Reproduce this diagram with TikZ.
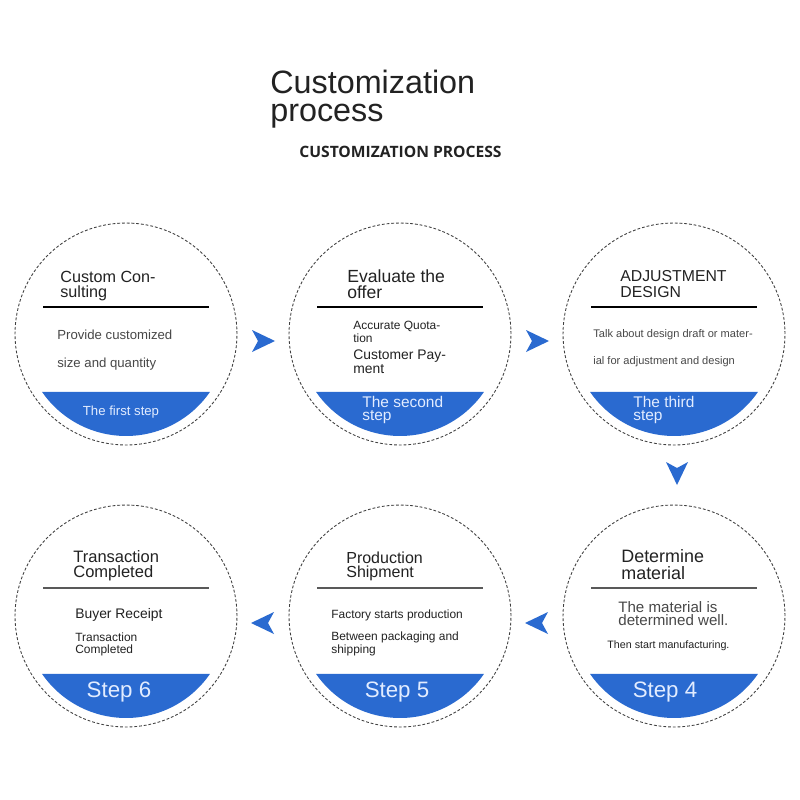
\documentclass[tikz,border=0pt]{standalone}
\usepackage{fontspec}
\setmainfont{Liberation Sans}
\newfontfamily\headbold{Open Sans}
\usepackage{tikz}
\usetikzlibrary{calc}
\definecolor{stepblue}{RGB}{42,106,208}
\definecolor{steplight}{RGB}{226,236,255}
\definecolor{inkdark}{RGB}{34,34,34}
\definecolor{inkbody}{RGB}{72,72,72}
\newcommand{\fs}[2]{\fontsize{#1}{#2}\selectfont}

\begin{document}
\begin{tikzpicture}[x=0.02cm,y=-0.02cm,
  stepcircle/.style={circle,draw=black!75,line width=0.5pt,dash pattern=on 1.6pt off 1.1pt,minimum size=4.44cm,inner sep=0pt},
  headtxt/.style={anchor=base west,align=left,inner sep=0pt,text=inkdark},
  bodytxt/.style={anchor=base west,align=left,inner sep=0pt,text=inkbody},
  bluetxt/.style={anchor=base west,align=left,inner sep=0pt,text=steplight},
  sepline/.style={line width=0.8pt}]
  \useasboundingbox[fill=white] (0,0) rectangle (800,800);
  % title (multi-line nodes sit on their last baseline)
  \node[headtxt,font=\fs{18.4}{16.4}] (title) at (270,122) {Customization\\process};
  \node[anchor=base west,inner sep=0pt,text=inkdark,font=\headbold\bfseries\fs{8.9}{10}] (subtitle) at (299,158) {CUSTOMIZATION PROCESS};
  % circles
  \node[stepcircle] (c1) at (126,334) {};
  \node[stepcircle] (c2) at (400,334) {};
  \node[stepcircle] (c3) at (674,334) {};
  \node[stepcircle] (c4) at (674,616) {};
  \node[stepcircle] (c5) at (400,616) {};
  \node[stepcircle] (c6) at (126,616) {};
  % blue caps and rules
  \foreach \c in {c1,c2,c3,c4,c5,c6} {
    \fill[stepblue] ($(\c)+(34.6:102)$) arc (34.6:145.4:102) -- cycle;
  }
  \foreach \c in {c1,c2,c3} \draw[sepline,black] ($(\c)+(-83,-27)$) -- ($(\c)+(83,-27)$);
  \foreach \c in {c4,c5,c6} \draw[sepline,black!65] ($(\c)+(-83,-28)$) -- ($(\c)+(83,-28)$);
  % arrow heads between the steps
  \foreach \a/\b/\ang/\dx/\dy in {c1/c2/0/0/7, c2/c3/0/0/7, c3/c4/-90/3/-2, c4/c5/180/0/7, c5/c6/180/0/7}
    \fill[stepblue,shift={($(\a)!0.5!(\b)+(\dx,\dy)$)},rotate=\ang] (12,0) -- (-11,-11) -- (-5,0) -- (-11,11) -- cycle;
  % step 1
  \node[headtxt,font=\fs{9.2}{8.2}] (h1) at (60,297) {Custom Con-\\sulting};
  \node[bodytxt,font=\fs{7.5}{15.9}] (b1) at (57,367) {Provide customized\\size and quantity};
  \node[anchor=base,inner sep=0pt,text=steplight,font=\fs{7.5}{9}] (s1) at (121,415) {The first step};
  % step 2
  \node[headtxt,font=\fs{10}{8.7}] (h2) at (347,298) {Evaluate the\\offer};
  \node[headtxt,font=\fs{6.8}{7}] (b2a) at (353,342) {Accurate Quota-\\tion};
  \node[headtxt,font=\fs{7.9}{7.6}] (b2b) at (353,373) {Customer Pay-\\ment};
  \node[bluetxt,font=\fs{8.8}{7.2}] (s2) at (362,420) {The second\\step};
  % step 3
  \node[headtxt,font=\fs{9}{8.6}] (h3) at (620,297) {ADJUSTMENT\\DESIGN};
  \node[bodytxt,font=\fs{6.3}{15.3}] (b3) at (593,364) {Talk about design draft or mater-\\ial for adjustment and design};
  \node[bluetxt,font=\fs{8.8}{7.2}] (s3) at (633,420) {The third\\step};
  % step 4
  \node[headtxt,font=\fs{10.2}{9.2}] (h4) at (621,579) {Determine\\material};
  \node[bodytxt,font=\fs{8.6}{7.3}] (b4a) at (618,625) {The material is\\determined well.};
  \node[headtxt,font=\fs{6.1}{7}] (b4b) at (607,648) {Then start manufacturing.};
  \node[anchor=base,inner sep=0pt,text=steplight,font=\fs{12.7}{14}] (s4) at (665,697) {Step 4};
  % step 5
  \node[headtxt,font=\fs{9.1}{7.6}] (h5) at (346,577) {Production\\Shipment};
  \node[headtxt,font=\fs{6.8}{7}] (b5a) at (331,618) {Factory starts production};
  \node[headtxt,font=\fs{6.8}{7.4}] (b5b) at (331,653) {Between packaging and\\shipping};
  \node[anchor=base,inner sep=0pt,text=steplight,font=\fs{12.7}{14}] (s5) at (397,697) {Step 5};
  % step 6
  \node[headtxt,font=\fs{9.4}{8.2}] (h6) at (73,577) {Transaction\\Completed};
  \node[headtxt,font=\fs{7.9}{8}] (b6a) at (75,618) {Buyer Receipt};
  \node[headtxt,font=\fs{6.8}{6.6}] (b6b) at (75,653) {Transaction\\Completed};
  \node[anchor=base,inner sep=0pt,text=steplight,font=\fs{12.7}{14}] (s6) at (119,697) {Step 6};
\end{tikzpicture}
\end{document}
